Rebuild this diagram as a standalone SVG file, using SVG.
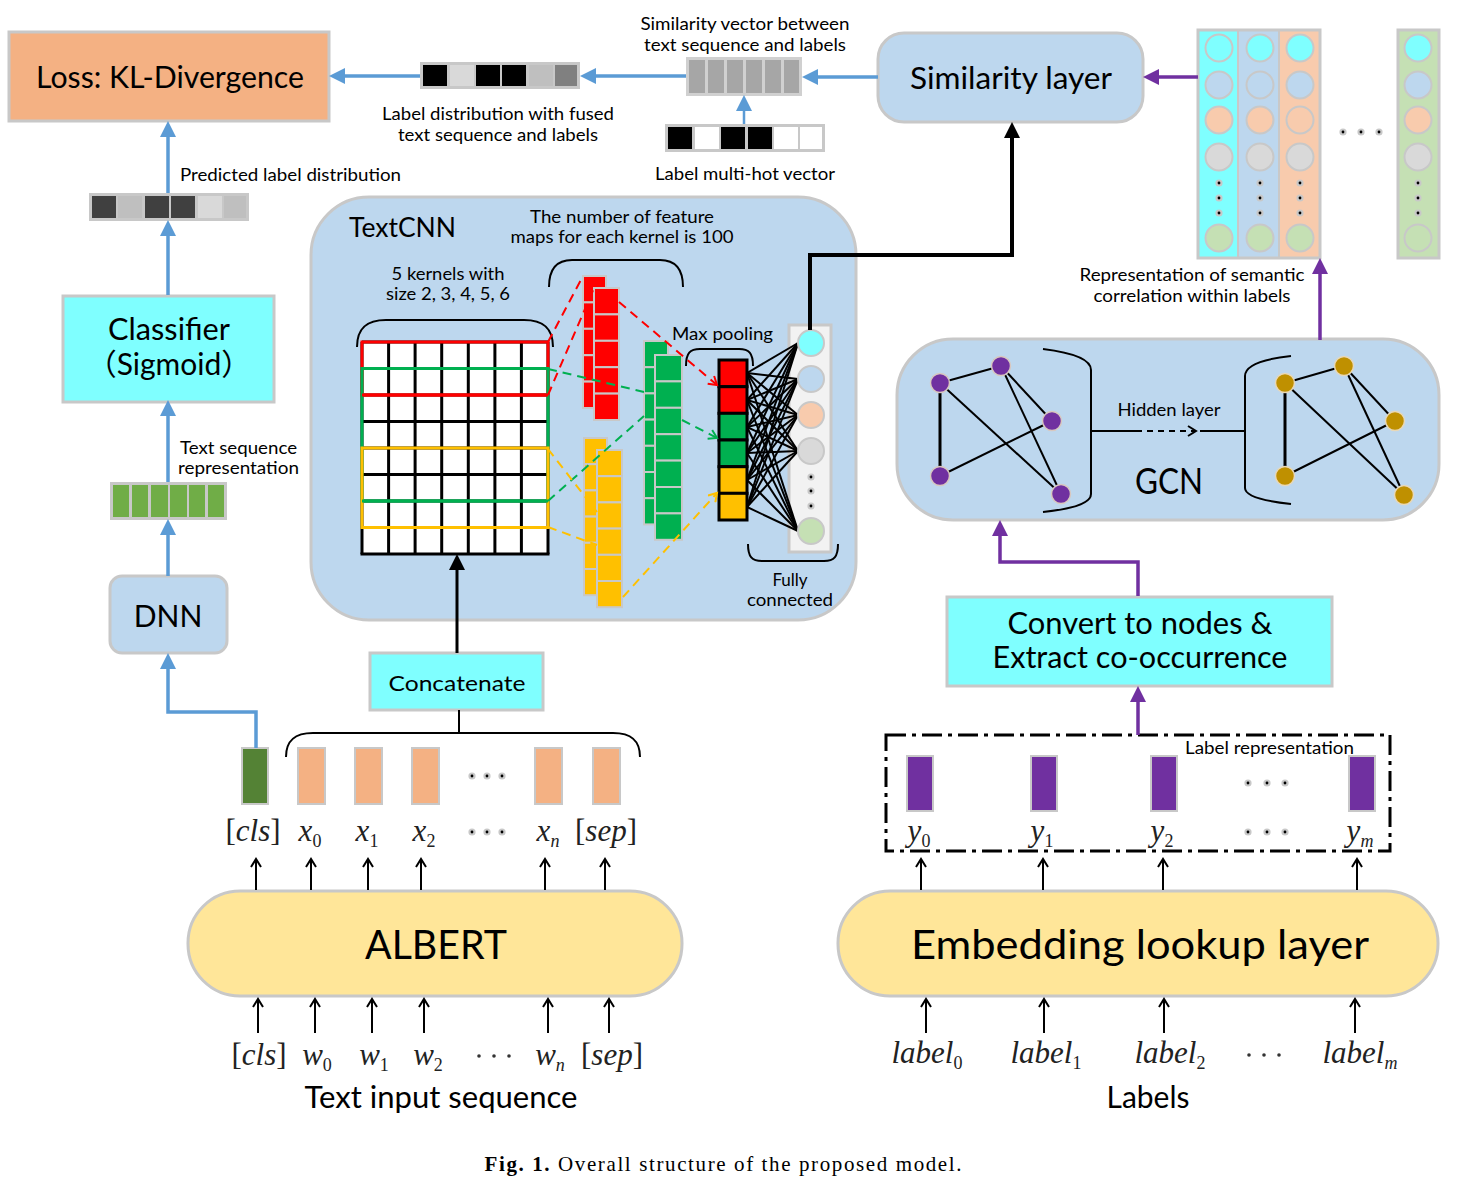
<svg xmlns="http://www.w3.org/2000/svg" width="1458" height="1182" viewBox="0 0 1458 1182">
<defs>
<style>
.t{font-family:Lato,"Open Sans","Noto Sans CJK SC",sans-serif;fill:#000}
.m{font-family:"Liberation Serif",serif;font-style:italic;fill:#222;font-size:31px}
.box{stroke:#C8C8C8;stroke-width:3}
.cell{stroke:#C8C8C8;stroke-width:2}
.blue{stroke:#5B9BD5;stroke-width:3.5;fill:none}
.purple{stroke:#7030A0;stroke-width:3.5;fill:none}
.thin{stroke:#000;stroke-width:2;fill:none}
.dash{stroke-width:2;fill:none;stroke-dasharray:9 6}
.circ{stroke:#C8C8C8;stroke-width:2}
.gl{stroke:#000;stroke-width:2}
</style>
<marker id="ab" markerUnits="userSpaceOnUse" markerWidth="16" markerHeight="16" refX="10" refY="8" orient="auto"><path d="M0,0 L16,8 L0,16 z" fill="#5B9BD5"/></marker>
<marker id="ap" markerUnits="userSpaceOnUse" markerWidth="16" markerHeight="16" refX="10" refY="8" orient="auto"><path d="M0,0 L16,8 L0,16 z" fill="#7030A0"/></marker>
<marker id="ak" markerUnits="userSpaceOnUse" markerWidth="16" markerHeight="16" refX="10" refY="8" orient="auto"><path d="M0,0 L16,8 L0,16 z" fill="#000"/></marker>
<marker id="ao" markerUnits="userSpaceOnUse" markerWidth="12" markerHeight="12" refX="9" refY="6" orient="auto"><path d="M1,1 L9,6 L1,11" fill="none" stroke="#000" stroke-width="2"/></marker>
<marker id="ar" markerUnits="userSpaceOnUse" markerWidth="12" markerHeight="12" refX="9" refY="6" orient="auto"><path d="M1,1 L9,6 L1,11" fill="none" stroke="#FF0000" stroke-width="2"/></marker>
<marker id="ag" markerUnits="userSpaceOnUse" markerWidth="12" markerHeight="12" refX="9" refY="6" orient="auto"><path d="M1,1 L9,6 L1,11" fill="none" stroke="#00B050" stroke-width="2"/></marker>
<marker id="ay" markerUnits="userSpaceOnUse" markerWidth="12" markerHeight="12" refX="9" refY="6" orient="auto"><path d="M1,1 L9,6 L1,11" fill="none" stroke="#FFC000" stroke-width="2"/></marker>
<g id="dot"><circle r="3.6" fill="#C8C8C8"/><circle r="1.4" fill="#000"/></g>
</defs>
<rect width="1458" height="1182" fill="#fff"/>

<!-- Loss -->
<g id="loss">
<rect x="9" y="32" width="320" height="89" fill="#F4B183" class="box"/>
<text class="t" x="170" y="88" font-size="30" text-anchor="middle" textLength="268" lengthAdjust="spacingAndGlyphs">Loss: KL-Divergence</text>
</g>

<!-- label distribution bar -->
<g id="labeldist">
<rect x="420" y="62" width="160" height="27" fill="#C8C8C8"/>
<rect x="423" y="65" width="24" height="21" fill="#000"/>
<rect x="450" y="65" width="24" height="21" fill="#D9D9D9"/>
<rect x="476" y="65" width="24" height="21" fill="#000"/>
<rect x="502" y="65" width="24" height="21" fill="#000"/>
<rect x="529" y="65" width="24" height="21" fill="#BFBFBF"/>
<rect x="555" y="65" width="22" height="21" fill="#808080"/>
<text class="t" x="498" y="120" font-size="17" text-anchor="middle" textLength="232" lengthAdjust="spacingAndGlyphs">Label distribution with fused</text>
<text class="t" x="498" y="141" font-size="17" text-anchor="middle" textLength="200" lengthAdjust="spacingAndGlyphs">text sequence and labels</text>
</g>

<!-- similarity vector -->
<g id="simvec">
<rect x="686" y="57" width="116" height="39" fill="#D0D0D0"/>
<rect x="689" y="60" width="16" height="33" fill="#A6A6A6"/>
<rect x="708" y="60" width="16" height="33" fill="#A6A6A6"/>
<rect x="727" y="60" width="16" height="33" fill="#A6A6A6"/>
<rect x="746" y="60" width="16" height="33" fill="#A6A6A6"/>
<rect x="765" y="60" width="16" height="33" fill="#A6A6A6"/>
<rect x="784" y="60" width="15" height="33" fill="#A6A6A6"/>
<text class="t" x="745" y="30" font-size="17" text-anchor="middle" textLength="209" lengthAdjust="spacingAndGlyphs">Similarity vector between</text>
<text class="t" x="745" y="51" font-size="17" text-anchor="middle" textLength="202" lengthAdjust="spacingAndGlyphs">text sequence and labels</text>
</g>

<!-- multi-hot -->
<g id="multihot">
<rect x="665" y="124" width="160" height="28" fill="#C8C8C8"/>
<rect x="668" y="127" width="24" height="22" fill="#000"/>
<rect x="695" y="127" width="24" height="22" fill="#fff"/>
<rect x="721" y="127" width="24" height="22" fill="#000"/>
<rect x="748" y="127" width="24" height="22" fill="#000"/>
<rect x="774" y="127" width="24" height="22" fill="#fff"/>
<rect x="800" y="127" width="22" height="22" fill="#fff"/>
<text class="t" x="745" y="180" font-size="17" text-anchor="middle" textLength="180" lengthAdjust="spacingAndGlyphs">Label multi-hot vector</text>
</g>

<!-- Similarity layer -->
<g id="simlayer">
<rect x="878" y="33" width="265" height="89" rx="26" fill="#BDD7EE" class="box"/>
<text class="t" x="1011" y="89" font-size="30" text-anchor="middle" textLength="202" lengthAdjust="spacingAndGlyphs">Similarity layer</text>
</g>

<!-- label columns -->
<g id="labelcols">
<rect x="1198" y="30" width="40" height="228" fill="#7FFFFF"/>
<rect x="1238" y="30" width="41" height="228" fill="#BDD7EE"/>
<rect x="1279" y="30" width="41" height="228" fill="#F8CBAD"/>
<rect x="1198" y="30" width="122" height="228" fill="none" class="box"/>
<line x1="1238" y1="30" x2="1238" y2="258" stroke="#C8C8C8" stroke-width="2"/>
<line x1="1279" y1="30" x2="1279" y2="258" stroke="#C8C8C8" stroke-width="2"/>
<g class="circ">
<circle cx="1219" cy="48" r="13.5" fill="#7FFFFF"/><circle cx="1219" cy="85" r="13.5" fill="#BDD7EE"/><circle cx="1219" cy="120" r="13.5" fill="#F8CBAD"/><circle cx="1219" cy="157" r="13.5" fill="#D9D9D9"/><circle cx="1219" cy="238" r="13.5" fill="#C5E0B4"/>
<circle cx="1260" cy="48" r="13.5" fill="#7FFFFF"/><circle cx="1260" cy="85" r="13.5" fill="#BDD7EE"/><circle cx="1260" cy="120" r="13.5" fill="#F8CBAD"/><circle cx="1260" cy="157" r="13.5" fill="#D9D9D9"/><circle cx="1260" cy="238" r="13.5" fill="#C5E0B4"/>
<circle cx="1300" cy="48" r="13.5" fill="#7FFFFF"/><circle cx="1300" cy="85" r="13.5" fill="#BDD7EE"/><circle cx="1300" cy="120" r="13.5" fill="#F8CBAD"/><circle cx="1300" cy="157" r="13.5" fill="#D9D9D9"/><circle cx="1300" cy="238" r="13.5" fill="#C5E0B4"/>
</g>
<use href="#dot" x="1219" y="183"/><use href="#dot" x="1219" y="198"/><use href="#dot" x="1219" y="213"/>
<use href="#dot" x="1260" y="183"/><use href="#dot" x="1260" y="198"/><use href="#dot" x="1260" y="213"/>
<use href="#dot" x="1300" y="183"/><use href="#dot" x="1300" y="198"/><use href="#dot" x="1300" y="213"/>
<use href="#dot" x="1343" y="132"/><use href="#dot" x="1361" y="132"/><use href="#dot" x="1379" y="132"/>
<rect x="1398" y="30" width="41" height="228" fill="#C5E0B4" class="box"/>
<g class="circ">
<circle cx="1418" cy="48" r="13.5" fill="#7FFFFF"/><circle cx="1418" cy="85" r="13.5" fill="#BDD7EE"/><circle cx="1418" cy="120" r="13.5" fill="#F8CBAD"/><circle cx="1418" cy="157" r="13.5" fill="#D9D9D9"/><circle cx="1418" cy="238" r="13.5" fill="#C5E0B4"/>
</g>
<use href="#dot" x="1418" y="183"/><use href="#dot" x="1418" y="198"/><use href="#dot" x="1418" y="213"/>
<text class="t" x="1192" y="281" font-size="17" text-anchor="middle" textLength="225" lengthAdjust="spacingAndGlyphs">Representation of semantic</text>
<text class="t" x="1192" y="302" font-size="17" text-anchor="middle" textLength="197" lengthAdjust="spacingAndGlyphs">correlation within labels</text>
</g>

<!-- predicted distribution -->
<g id="preddist">
<rect x="89" y="193" width="160" height="28" fill="#C8C8C8"/>
<rect x="92" y="196" width="24" height="22" fill="#404040"/>
<rect x="118" y="196" width="24" height="22" fill="#BFBFBF"/>
<rect x="145" y="196" width="24" height="22" fill="#404040"/>
<rect x="171" y="196" width="24" height="22" fill="#404040"/>
<rect x="198" y="196" width="24" height="22" fill="#D9D9D9"/>
<rect x="224" y="196" width="22" height="22" fill="#BFBFBF"/>
<text class="t" x="180" y="181" font-size="17" textLength="221" lengthAdjust="spacingAndGlyphs">Predicted label distribution</text>
</g>

<!-- Classifier -->
<g id="classifier">
<rect x="63" y="296" width="211" height="106" fill="#7FFFFF" class="box"/>
<text class="t" x="169" y="340" font-size="30" text-anchor="middle" textLength="122" lengthAdjust="spacingAndGlyphs">Classifier</text>
<text class="t" x="169" y="375" font-size="30" text-anchor="middle"><tspan font-family="'Noto Sans CJK SC',sans-serif">（</tspan>Sigmoid<tspan font-family="'Noto Sans CJK SC',sans-serif">）</tspan></text>
</g>

<!-- Text seq representation -->
<g id="textrep">
<rect x="110" y="482" width="117" height="38" fill="#C8C8C8"/>
<rect x="113" y="485" width="16" height="32" fill="#70AD47"/>
<rect x="132" y="485" width="16" height="32" fill="#70AD47"/>
<rect x="151" y="485" width="17" height="32" fill="#70AD47"/>
<rect x="170" y="485" width="17" height="32" fill="#70AD47"/>
<rect x="189" y="485" width="16" height="32" fill="#70AD47"/>
<rect x="208" y="485" width="16" height="32" fill="#70AD47"/>
<text class="t" x="180" y="454" font-size="17" textLength="117" lengthAdjust="spacingAndGlyphs">Text sequence</text>
<text class="t" x="178" y="474" font-size="17" textLength="121" lengthAdjust="spacingAndGlyphs">representation</text>
</g>

<!-- DNN -->
<g id="dnn">
<rect x="110" y="576" width="117" height="77" rx="12" fill="#BDD7EE" class="box"/>
<text class="t" x="168" y="627" font-size="30" text-anchor="middle">DNN</text>
</g>

<!-- TextCNN -->
<g id="textcnn">
<rect x="311" y="197" width="545" height="423" rx="58" fill="#BDD7EE" class="box"/>
<text class="t" x="349" y="237" font-size="26" textLength="107" lengthAdjust="spacingAndGlyphs">TextCNN</text>
<text class="t" x="622" y="223" font-size="17" text-anchor="middle" textLength="184" lengthAdjust="spacingAndGlyphs">The number of feature</text>
<text class="t" x="622" y="243" font-size="17" text-anchor="middle" textLength="223" lengthAdjust="spacingAndGlyphs">maps for each kernel is 100</text>
<text class="t" x="448" y="280" font-size="17" text-anchor="middle" textLength="113" lengthAdjust="spacingAndGlyphs">5 kernels with</text>
<text class="t" x="448" y="300" font-size="17" text-anchor="middle" textLength="124" lengthAdjust="spacingAndGlyphs">size 2, 3, 4, 5, 6</text>
<text class="t" x="672" y="340" font-size="17" textLength="101" lengthAdjust="spacingAndGlyphs">Max pooling</text>
<text class="t" x="790" y="586" font-size="17" text-anchor="middle">Fully</text>
<text class="t" x="790" y="606" font-size="17" text-anchor="middle" textLength="86" lengthAdjust="spacingAndGlyphs">connected</text>
<!-- braces -->
<path d="M357,347 C357,327 368,320 386,320 H524 C542,320 553,327 553,347" class="thin"/>
<path d="M549,287 C549,268 557,260 572,260 H660 C675,260 683,268 683,287" class="thin"/>
<path d="M686,366 C686,353 690,349 700,349 H739 C749,349 753,353 753,366" class="thin"/>
<path d="M748,544 C748,557 752,561 762,561 H824 C834,561 838,557 838,544" class="thin"/>
<!-- grid -->
<rect x="362" y="342" width="186" height="212" fill="#fff"/>
<g stroke="#000" stroke-width="3">
<line x1="362" y1="342" x2="548" y2="342"/><line x1="362" y1="368.5" x2="548" y2="368.5"/><line x1="362" y1="395" x2="548" y2="395"/><line x1="362" y1="421.5" x2="548" y2="421.5"/><line x1="362" y1="448" x2="548" y2="448"/><line x1="362" y1="474.5" x2="548" y2="474.5"/><line x1="362" y1="501" x2="548" y2="501"/><line x1="362" y1="527.5" x2="548" y2="527.5"/><line x1="360.5" y1="554" x2="549.5" y2="554"/>
<line x1="362" y1="342" x2="362" y2="554"/><line x1="388.6" y1="342" x2="388.6" y2="554"/><line x1="415.1" y1="342" x2="415.1" y2="554"/><line x1="441.7" y1="342" x2="441.7" y2="554"/><line x1="468.3" y1="342" x2="468.3" y2="554"/><line x1="494.9" y1="342" x2="494.9" y2="554"/><line x1="521.4" y1="342" x2="521.4" y2="554"/><line x1="548" y1="342" x2="548" y2="554"/>
</g>
<rect x="362" y="342" width="186" height="53" fill="none" stroke="#FF0000" stroke-width="3"/>
<rect x="362" y="368.5" width="186" height="132.5" fill="none" stroke="#00B050" stroke-width="3"/>
<rect x="362" y="448" width="186" height="79.5" fill="none" stroke="#FFC000" stroke-width="3"/>
<line x1="362" y1="395" x2="548" y2="395" stroke="#FF0000" stroke-width="3"/>
<line x1="362" y1="501" x2="548" y2="501" stroke="#00B050" stroke-width="3"/>
<!-- red feature maps -->
<g class="cell" fill="#FF0000">
<rect x="583" y="276" width="23" height="26.4"/><rect x="583" y="302.4" width="23" height="26.4"/><rect x="583" y="328.8" width="23" height="26.4"/><rect x="583" y="355.2" width="23" height="26.4"/><rect x="583" y="381.6" width="23" height="26.4"/>
<rect x="594" y="288" width="25" height="26.4"/><rect x="594" y="314.4" width="25" height="26.4"/><rect x="594" y="340.8" width="25" height="26.4"/><rect x="594" y="367.2" width="25" height="26.4"/><rect x="594" y="393.6" width="25" height="26.4"/>
</g>
<!-- yellow feature maps -->
<g class="cell" fill="#FFC000">
<rect x="584" y="438" width="23" height="26.2"/><rect x="584" y="464.2" width="23" height="26.2"/><rect x="584" y="490.4" width="23" height="26.2"/><rect x="584" y="516.6" width="23" height="26.2"/><rect x="584" y="542.8" width="23" height="26.2"/><rect x="584" y="569" width="23" height="26.2"/>
<rect x="597" y="450" width="25" height="26.2"/><rect x="597" y="476.2" width="25" height="26.2"/><rect x="597" y="502.4" width="25" height="26.2"/><rect x="597" y="528.6" width="25" height="26.2"/><rect x="597" y="554.8" width="25" height="26.2"/><rect x="597" y="581" width="25" height="26.2"/>
</g>
<!-- green feature maps -->
<g class="cell" fill="#00B050">
<rect x="644" y="341" width="24" height="26.2"/><rect x="644" y="367.2" width="24" height="26.2"/><rect x="644" y="393.4" width="24" height="26.2"/><rect x="644" y="419.6" width="24" height="26.2"/><rect x="644" y="445.8" width="24" height="26.2"/><rect x="644" y="472" width="24" height="26.2"/><rect x="644" y="498.2" width="24" height="26.2"/>
<rect x="655" y="355" width="27" height="26.4"/><rect x="655" y="381.4" width="27" height="26.4"/><rect x="655" y="407.8" width="27" height="26.4"/><rect x="655" y="434.2" width="27" height="26.4"/><rect x="655" y="460.6" width="27" height="26.4"/><rect x="655" y="487" width="27" height="26.4"/><rect x="655" y="513.4" width="27" height="26.4"/>
</g>
<!-- max pooling vector -->
<g stroke="#000" stroke-width="3">
<rect x="719" y="360" width="28" height="26.7" fill="#FF0000"/><rect x="719" y="386.7" width="28" height="26.7" fill="#FF0000"/><rect x="719" y="413.3" width="28" height="26.7" fill="#00B050"/><rect x="719" y="440" width="28" height="26.7" fill="#00B050"/><rect x="719" y="466.7" width="28" height="26.7" fill="#FFC000"/><rect x="719" y="493.3" width="28" height="26.7" fill="#FFC000"/>
</g>
<!-- fully connected -->
<rect x="789" y="325" width="42" height="227" fill="#F2F2F2" stroke="#C8C8C8" stroke-width="3"/>
<g class="gl">
<line x1="747" y1="373" x2="798" y2="343"/><line x1="747" y1="373" x2="798" y2="379"/><line x1="747" y1="373" x2="798" y2="415"/><line x1="747" y1="373" x2="798" y2="451"/><line x1="747" y1="373" x2="798" y2="531"/>
<line x1="747" y1="400" x2="798" y2="343"/><line x1="747" y1="400" x2="798" y2="379"/><line x1="747" y1="400" x2="798" y2="415"/><line x1="747" y1="400" x2="798" y2="451"/><line x1="747" y1="400" x2="798" y2="531"/>
<line x1="747" y1="427" x2="798" y2="343"/><line x1="747" y1="427" x2="798" y2="379"/><line x1="747" y1="427" x2="798" y2="415"/><line x1="747" y1="427" x2="798" y2="451"/><line x1="747" y1="427" x2="798" y2="531"/>
<line x1="747" y1="453" x2="798" y2="343"/><line x1="747" y1="453" x2="798" y2="379"/><line x1="747" y1="453" x2="798" y2="415"/><line x1="747" y1="453" x2="798" y2="451"/><line x1="747" y1="453" x2="798" y2="531"/>
<line x1="747" y1="480" x2="798" y2="343"/><line x1="747" y1="480" x2="798" y2="379"/><line x1="747" y1="480" x2="798" y2="415"/><line x1="747" y1="480" x2="798" y2="451"/><line x1="747" y1="480" x2="798" y2="531"/>
<line x1="747" y1="507" x2="798" y2="343"/><line x1="747" y1="507" x2="798" y2="379"/><line x1="747" y1="507" x2="798" y2="415"/><line x1="747" y1="507" x2="798" y2="451"/><line x1="747" y1="507" x2="798" y2="531"/>
</g>
<g class="circ">
<circle cx="811" cy="343" r="13" fill="#7FFFFF"/><circle cx="811" cy="379" r="13" fill="#BDD7EE"/><circle cx="811" cy="415" r="13" fill="#F8CBAD"/><circle cx="811" cy="451" r="13" fill="#D9D9D9"/><circle cx="811" cy="531" r="13" fill="#C5E0B4"/>
</g>
<use href="#dot" x="811" y="477"/><use href="#dot" x="811" y="491"/><use href="#dot" x="811" y="506"/>
</g>

<!-- Concatenate -->
<g id="concat">
<rect x="370" y="653" width="173" height="57" fill="#7FFFFF" class="box"/>
<text class="t" x="457" y="691" font-size="22" text-anchor="middle" textLength="137" lengthAdjust="spacingAndGlyphs">Concatenate</text>
</g>

<!-- token embeddings -->
<g id="tokens">
<path d="M286,757 C286,740 295,733 313,733 H613 C631,733 640,740 640,757" class="thin"/>
<rect x="242" y="748" width="26" height="56" fill="#548235" class="cell"/>
<rect x="298" y="748" width="27" height="56" fill="#F4B183" class="cell"/>
<rect x="355" y="748" width="27" height="56" fill="#F4B183" class="cell"/>
<rect x="412" y="748" width="27" height="56" fill="#F4B183" class="cell"/>
<rect x="535" y="748" width="27" height="56" fill="#F4B183" class="cell"/>
<rect x="593" y="748" width="27" height="56" fill="#F4B183" class="cell"/>
<use href="#dot" x="472" y="776"/><use href="#dot" x="487" y="776"/><use href="#dot" x="502" y="776"/>
<use href="#dot" x="472" y="832"/><use href="#dot" x="487" y="832"/><use href="#dot" x="502" y="832"/>
<text class="m" x="253" y="841" text-anchor="middle"><tspan font-style="normal">[</tspan>cls<tspan font-style="normal">]</tspan></text>
<text class="m" x="310" y="841" text-anchor="middle">x<tspan font-size="18" dy="6" font-style="normal">0</tspan></text>
<text class="m" x="367" y="841" text-anchor="middle">x<tspan font-size="18" dy="6" font-style="normal">1</tspan></text>
<text class="m" x="424" y="841" text-anchor="middle">x<tspan font-size="18" dy="6" font-style="normal">2</tspan></text>
<text class="m" x="548" y="841" text-anchor="middle">x<tspan font-size="18" dy="6">n</tspan></text>
<text class="m" x="606" y="841" text-anchor="middle"><tspan font-style="normal">[</tspan>sep<tspan font-style="normal">]</tspan></text>
</g>

<!-- ALBERT -->
<g id="albert">
<rect x="188" y="891" width="494" height="105" rx="52" fill="#FFE699" class="box"/>
<text class="t" x="436" y="959" font-size="40" text-anchor="middle" textLength="142" lengthAdjust="spacingAndGlyphs">ALBERT</text>
</g>

<!-- text inputs -->
<g id="textinput">
<text class="m" x="259" y="1065" text-anchor="middle"><tspan font-style="normal">[</tspan>cls<tspan font-style="normal">]</tspan></text>
<text class="m" x="317" y="1065" text-anchor="middle">w<tspan font-size="18" dy="6" font-style="normal">0</tspan></text>
<text class="m" x="374" y="1065" text-anchor="middle">w<tspan font-size="18" dy="6" font-style="normal">1</tspan></text>
<text class="m" x="428" y="1065" text-anchor="middle">w<tspan font-size="18" dy="6" font-style="normal">2</tspan></text>
<circle cx="479" cy="1056" r="1.8" fill="#333"/><circle cx="494" cy="1056" r="1.8" fill="#333"/><circle cx="509" cy="1056" r="1.8" fill="#333"/>
<text class="m" x="550" y="1065" text-anchor="middle">w<tspan font-size="18" dy="6">n</tspan></text>
<text class="m" x="612" y="1065" text-anchor="middle"><tspan font-style="normal">[</tspan>sep<tspan font-style="normal">]</tspan></text>
<text class="t" x="441" y="1108" font-size="30" text-anchor="middle" textLength="273" lengthAdjust="spacingAndGlyphs">Text input sequence</text>
</g>

<!-- GCN -->
<g id="gcn">
<rect x="897" y="339" width="542" height="181" rx="56" fill="#BDD7EE" class="box"/>
<g stroke="#000" stroke-width="2">
<line x1="940" y1="383" x2="1001" y2="366"/><line x1="940" y1="383" x2="940" y2="476" stroke-width="3"/><line x1="940" y1="383" x2="1061" y2="494"/><line x1="1001" y1="366" x2="1052" y2="421"/><line x1="1001" y1="366" x2="1061" y2="494"/><line x1="940" y1="476" x2="1052" y2="421"/>
<line x1="1285" y1="383" x2="1344" y2="366"/><line x1="1285" y1="383" x2="1285" y2="476" stroke-width="3"/><line x1="1285" y1="383" x2="1404" y2="495"/><line x1="1344" y1="366" x2="1395" y2="421"/><line x1="1344" y1="366" x2="1404" y2="495"/><line x1="1285" y1="476" x2="1395" y2="421"/>
</g>
<g fill="#7030A0" stroke="#D8C8C0" stroke-width="1.5">
<circle cx="940" cy="383" r="9.5"/><circle cx="1001" cy="366" r="9.5"/><circle cx="1052" cy="421" r="9.5"/><circle cx="940" cy="476" r="9.5"/><circle cx="1061" cy="494" r="9.5"/>
</g>
<g fill="#BF9000" stroke="#E8D8B8" stroke-width="1.5">
<circle cx="1285" cy="383" r="9.5"/><circle cx="1344" cy="366" r="9.5"/><circle cx="1395" cy="421" r="9.5"/><circle cx="1285" cy="476" r="9.5"/><circle cx="1404" cy="495" r="9.5"/>
</g>
<path d="M1043,349 Q1091,355 1091,370 V494 Q1091,507 1043,512" class="thin"/>
<path d="M1291,356 Q1245,361 1245,376 V488 Q1245,499 1291,504" class="thin"/>
<line x1="1092" y1="431" x2="1136" y2="431" class="thin"/>
<line x1="1136" y1="431" x2="1196" y2="431" stroke="#000" stroke-width="2" stroke-dasharray="6 5" marker-end="url(#ao)"/>
<line x1="1200" y1="431" x2="1245" y2="431" class="thin"/>
<text class="t" x="1169" y="416" font-size="17" text-anchor="middle" textLength="103" lengthAdjust="spacingAndGlyphs">Hidden layer</text>
<text class="t" x="1169" y="494" font-size="36" text-anchor="middle" textLength="68" lengthAdjust="spacingAndGlyphs">GCN</text>
</g>

<!-- Convert -->
<g id="convert">
<rect x="947" y="597" width="385" height="89" fill="#7FFFFF" class="box"/>
<text class="t" x="1140" y="634" font-size="30" text-anchor="middle" textLength="265" lengthAdjust="spacingAndGlyphs">Convert to nodes &amp;</text>
<text class="t" x="1140" y="668" font-size="30" text-anchor="middle" textLength="295" lengthAdjust="spacingAndGlyphs">Extract co-occurrence</text>
</g>

<!-- Label representation -->
<g id="labelrep">
<rect x="886" y="735" width="504" height="116" fill="none" stroke="#000" stroke-width="3" stroke-dasharray="20 6 4 6"/>
<text class="t" x="1185" y="754" font-size="17" textLength="169" lengthAdjust="spacingAndGlyphs">Label representation</text>
<rect x="907" y="756" width="26" height="55" fill="#7030A0" class="cell"/>
<rect x="1031" y="756" width="26" height="55" fill="#7030A0" class="cell"/>
<rect x="1151" y="756" width="26" height="55" fill="#7030A0" class="cell"/>
<rect x="1349" y="756" width="26" height="55" fill="#7030A0" class="cell"/>
<use href="#dot" x="1248" y="783"/><use href="#dot" x="1267" y="783"/><use href="#dot" x="1285" y="783"/>
<use href="#dot" x="1248" y="832"/><use href="#dot" x="1267" y="832"/><use href="#dot" x="1285" y="832"/>
<text class="m" x="919" y="841" text-anchor="middle">y<tspan font-size="18" dy="6" font-style="normal">0</tspan></text>
<text class="m" x="1042" y="841" text-anchor="middle">y<tspan font-size="18" dy="6" font-style="normal">1</tspan></text>
<text class="m" x="1162" y="841" text-anchor="middle">y<tspan font-size="18" dy="6" font-style="normal">2</tspan></text>
<text class="m" x="1360" y="841" text-anchor="middle">y<tspan font-size="18" dy="6">m</tspan></text>
</g>

<!-- Embedding lookup -->
<g id="embedding">
<rect x="838" y="891" width="600" height="105" rx="52" fill="#FFE699" class="box"/>
<text class="t" x="1140" y="959" font-size="40" text-anchor="middle" textLength="458" lengthAdjust="spacingAndGlyphs">Embedding lookup layer</text>
</g>

<!-- label inputs -->
<g id="labelinput">
<text class="m" x="927" y="1063" text-anchor="middle">label<tspan font-size="18" dy="6" font-style="normal">0</tspan></text>
<text class="m" x="1046" y="1063" text-anchor="middle">label<tspan font-size="18" dy="6" font-style="normal">1</tspan></text>
<text class="m" x="1170" y="1063" text-anchor="middle">label<tspan font-size="18" dy="6" font-style="normal">2</tspan></text>
<circle cx="1249" cy="1055" r="1.8" fill="#333"/><circle cx="1264" cy="1055" r="1.8" fill="#333"/><circle cx="1279" cy="1055" r="1.8" fill="#333"/>
<text class="m" x="1360" y="1063" text-anchor="middle">label<tspan font-size="18" dy="6">m</tspan></text>
<text class="t" x="1148" y="1108" font-size="30" text-anchor="middle">Labels</text>
</g>

<!-- connectors -->
<g id="connectors">
<line x1="420" y1="76" x2="335" y2="76" class="blue" marker-end="url(#ab)"/>
<line x1="686" y1="76" x2="586" y2="76" class="blue" marker-end="url(#ab)"/>
<line x1="878" y1="77" x2="808" y2="77" class="blue" marker-end="url(#ab)"/>
<line x1="744" y1="124" x2="744" y2="101" stroke="#5B9BD5" stroke-width="2.5" marker-end="url(#ab)"/>
<line x1="1198" y1="77" x2="1149" y2="77" class="purple" marker-end="url(#ap)"/>
<path d="M810,330 V255 H1012 V128" fill="none" stroke="#000" stroke-width="4" marker-end="url(#ak)"/>
<line x1="168" y1="193" x2="168" y2="127" class="blue" marker-end="url(#ab)"/>
<line x1="168" y1="295" x2="168" y2="226" class="blue" marker-end="url(#ab)"/>
<line x1="168" y1="482" x2="168" y2="406" class="blue" marker-end="url(#ab)"/>
<line x1="168" y1="576" x2="168" y2="525" class="blue" marker-end="url(#ab)"/>
<path d="M256,748 V712 H168 V659" class="blue" marker-end="url(#ab)"/>
<line x1="457" y1="653" x2="457" y2="560" stroke="#000" stroke-width="3" marker-end="url(#ak)"/>
<line x1="459" y1="710" x2="459" y2="733" class="thin"/>
<line x1="1320" y1="340" x2="1320" y2="264" class="purple" marker-end="url(#ap)"/>
<path d="M1138,596 V562 H1000 V526" class="purple" marker-end="url(#ap)"/>
<line x1="1138" y1="735" x2="1138" y2="692" class="purple" marker-end="url(#ap)"/>
<!-- dashed kernel lines -->
<line x1="548" y1="342" x2="583" y2="276" stroke="#FF0000" class="dash"/>
<line x1="548" y1="395" x2="594" y2="288" stroke="#FF0000" class="dash"/>
<line x1="619" y1="302" x2="717" y2="385" stroke="#FF0000" class="dash" marker-end="url(#ar)"/>
<line x1="548" y1="369" x2="644" y2="392" stroke="#00B050" class="dash"/>
<line x1="548" y1="501" x2="644" y2="416" stroke="#00B050" class="dash"/>
<line x1="682" y1="420" x2="717" y2="438" stroke="#00B050" class="dash" marker-end="url(#ag)"/>
<line x1="548" y1="449" x2="597" y2="512" stroke="#FFC000" class="dash"/>
<line x1="548" y1="527" x2="597" y2="545" stroke="#FFC000" class="dash"/>
<line x1="623" y1="597" x2="717" y2="493" stroke="#FFC000" class="dash" marker-end="url(#ay)"/>
<!-- token arrows -->
<g class="thin">
<line x1="256" y1="890" x2="256" y2="859" marker-end="url(#ao)"/><line x1="311" y1="890" x2="311" y2="859" marker-end="url(#ao)"/><line x1="368" y1="890" x2="368" y2="859" marker-end="url(#ao)"/><line x1="421" y1="890" x2="421" y2="859" marker-end="url(#ao)"/><line x1="545" y1="890" x2="545" y2="859" marker-end="url(#ao)"/><line x1="605" y1="890" x2="605" y2="859" marker-end="url(#ao)"/>
<line x1="258" y1="1033" x2="258" y2="999" marker-end="url(#ao)"/><line x1="315" y1="1033" x2="315" y2="999" marker-end="url(#ao)"/><line x1="372" y1="1033" x2="372" y2="999" marker-end="url(#ao)"/><line x1="424" y1="1033" x2="424" y2="999" marker-end="url(#ao)"/><line x1="548" y1="1033" x2="548" y2="999" marker-end="url(#ao)"/><line x1="609" y1="1033" x2="609" y2="999" marker-end="url(#ao)"/>
<line x1="921" y1="890" x2="921" y2="859" marker-end="url(#ao)"/><line x1="1043" y1="890" x2="1043" y2="859" marker-end="url(#ao)"/><line x1="1163" y1="890" x2="1163" y2="859" marker-end="url(#ao)"/><line x1="1357" y1="890" x2="1357" y2="859" marker-end="url(#ao)"/>
<line x1="926" y1="1033" x2="926" y2="999" marker-end="url(#ao)"/><line x1="1044" y1="1033" x2="1044" y2="999" marker-end="url(#ao)"/><line x1="1164" y1="1033" x2="1164" y2="999" marker-end="url(#ao)"/><line x1="1355" y1="1033" x2="1355" y2="999" marker-end="url(#ao)"/>
</g>
</g>

<!-- caption -->
<text x="723" y="1171" font-family="'Liberation Serif',serif" font-size="21" text-anchor="middle" textLength="477" lengthAdjust="spacing"><tspan font-weight="bold">Fig. 1.</tspan>  Overall structure of the proposed model.</text>
</svg>
